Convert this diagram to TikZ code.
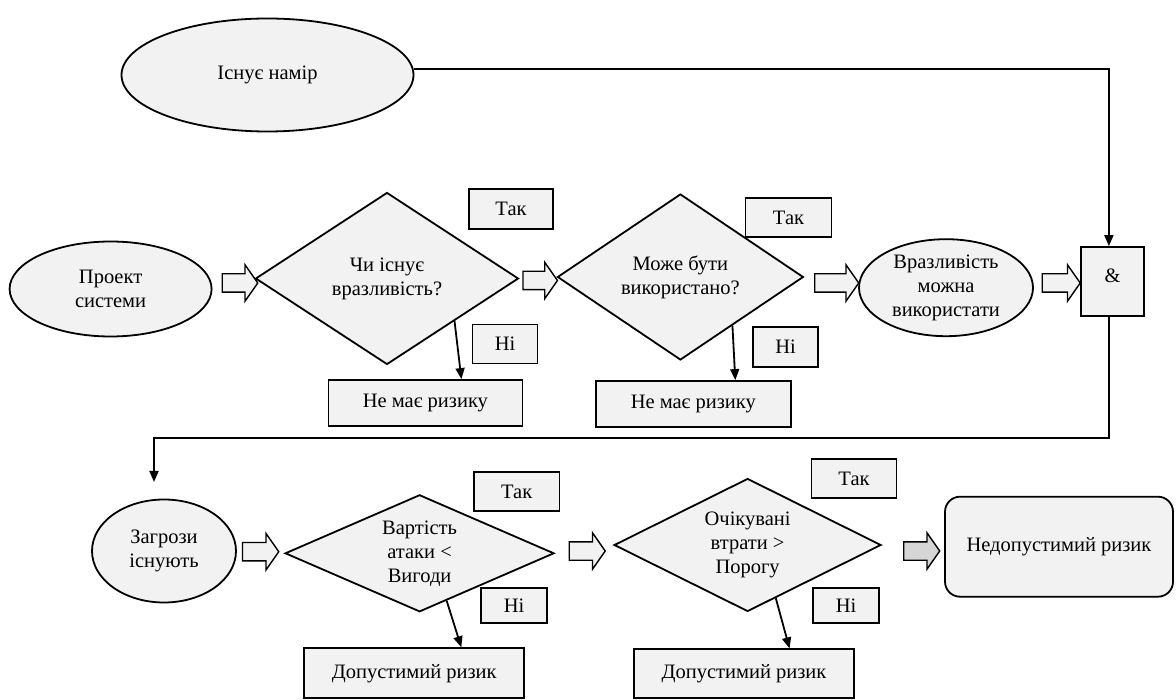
\documentclass[tikz,border=0pt]{standalone}
\usepackage{fontspec}
\setmainfont{Liberation Serif}
\usetikzlibrary{arrows.meta,shapes,positioning,calc}

\definecolor{shapeGray}{HTML}{F2F2F2}
\definecolor{arrowGray}{HTML}{D6D6D6}

\begin{document}
\begin{tikzpicture}[x=1pt,y=-1pt,>={Triangle[length=11pt,width=9pt]},semithick,
	font=\fontsize{20.5}{24}\selectfont]

\tikzset{
	stateOval/.style={
		ellipse,
		draw,
		fill=shapeGray,
		inner sep=0pt,
		align=center,
		line width=1.8pt
	}
}

\tikzset{
	decision/.style={
		diamond,
		draw,
		fill=shapeGray,
		inner sep=0pt,
		align=center,
		line width=1.8pt
	}
}

\tikzset{
	outcome/.style={
		rectangle,
		draw,
		fill=shapeGray,
		align=center,
		line width=1.8pt
	}
}

\tikzset{
	answer/.style={
		rectangle,
		draw,
		fill=shapeGray,
		line width=1.8pt
	}
}

\tikzset{
	blockArrow/.style={
		single arrow,
		draw,
		fill=shapeGray,
		inner sep=0pt,
		inner ysep=8.5pt,
		single arrow head extend=9pt,
		single arrow tip angle=110,
		minimum width=35pt,
		minimum height=36pt,
		line width=1.4pt
	}
}

\tikzset{
	conn/.style={->,line width=1.8pt}
}

\useasboundingbox (0,0) rectangle (1176,700);

% top row
\node[stateOval, minimum width=292pt, minimum height=113pt](Intent) at (267.5,75) {Існує намір};

% second row
\node[stateOval, minimum width=202pt, minimum height=95pt](Project) at (110.6,289) {Проект\\системи};
\node[blockArrow, minimum height=35.5pt](A1) at (236.8,283) {};
\node[decision, aspect=1.53, minimum width=263pt, minimum height=172pt](Exists) at (387,278.5) {Чи існує\\вразливість?};
\node[answer, minimum width=84pt, minimum height=40pt](Yes1) at (511,209) {Так};
\node[answer, minimum width=65pt, minimum height=39pt](No1) at (505,344) {Ні};
\node[outcome, minimum width=194pt, minimum height=46pt](NoRisk1) at (425.4,403) {Не має ризику};

\node[blockArrow, minimum height=34.5pt](A2) at (537,280.5) {};
\node[decision, aspect=1.48, minimum width=246pt, minimum height=166pt](Usable) at (680.4,277) {Може бути\\використано?};
\node[answer, minimum width=86pt, minimum height=38.5pt](Yes2) at (788.5,217.5) {Так};
\node[answer, minimum width=65.5pt, minimum height=40pt](No2) at (785.5,346.7) {Ні};
\node[outcome, minimum width=195pt, minimum height=46pt](NoRisk2) at (693.3,404) {Не має ризику};

\node[blockArrow, minimum height=44pt](A3) at (833.5,283) {};
\node[stateOval, minimum width=174pt, minimum height=97pt](Vuln) at (946,287.7) {Вразливість\\можна\\використати};
\node[blockArrow, minimum height=38pt](A4) at (1058,283) {};
\node[outcome, minimum width=63pt, minimum height=69pt](And) at (1112.5,281.5) {\raisebox{11pt}{\&}};

% third row
\node[stateOval, minimum width=144pt, minimum height=103pt](Threats) at (164,551) {Загрози\\існують};
\node[blockArrow, minimum height=36.3pt](B1) at (257.4,551.7) {};
\node[decision, aspect=2.3, minimum width=269pt, minimum height=117pt](Cost) at (419.6,553.3) {Вартість\\атаки <\\Вигоди};
\node[answer, minimum width=85.7pt, minimum height=38.7pt](Yes3) at (516.7,491.7) {Так};
\node[answer, minimum width=66.3pt, minimum height=35pt](No3) at (514,605.8) {Ні};
\node[outcome, minimum width=220pt, minimum height=50pt](Accept1) at (414.3,673.2) {Допустимий ризик};

\node[blockArrow](B2) at (584,551) {};
\node[decision, aspect=2, minimum width=267pt, minimum height=133pt](Loss) at (747.6,545) {Очікувані\\втрати >\\Порогу};
\node[answer, minimum width=85pt, minimum height=39pt](Yes4) at (854,478.8) {Так};
\node[answer, minimum width=66.6pt, minimum height=35pt](No4) at (846,605.8) {Ні};
\node[outcome, minimum width=220.4pt, minimum height=49pt](Accept2) at (744,673.8) {Допустимий ризик};

\node[blockArrow, fill=arrowGray](B3) at (918.5,551) {};
\node[outcome, rounded corners=15pt, minimum width=228pt, minimum height=100pt](Unaccept) at (1059,546.7) {Недопустимий ризик};

\coordinate (ThreatIn) at (154,482);

\draw[conn] ([yshift=5.7pt]Intent.east) -| ([xshift=-3.6pt]And.north);
\draw[conn] ([xshift=-3.6pt]And.south) -- ++(0,121.3) -| (ThreatIn);

\path[conn] ($(Exists.east)!0.49!(Exists.south)$) edge ([xshift=36pt]NoRisk1.north);
\path[conn] ($(Usable.east)!0.58!(Usable.south)$) edge ([xshift=42pt]NoRisk2.north);
\path[conn] ($(Cost.east)!0.8!(Cost.south)$) edge ([xshift=47pt]Accept1.north);
\path[conn] ($(Loss.east)!0.79!(Loss.south)$) edge ([xshift=45.5pt]Accept2.north);

\end{tikzpicture}
\end{document}
